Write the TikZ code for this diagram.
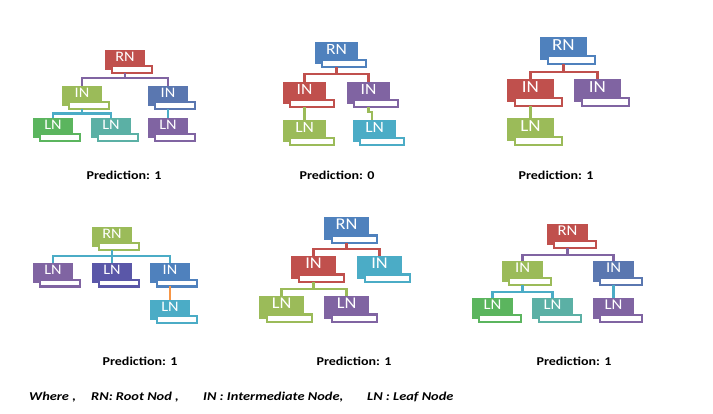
\documentclass[tikz,border=0pt]{standalone}
\usepackage{fontspec}
\setmainfont{Carlito}
\usepackage{graphicx}
\definecolor{cred}{HTML}{C0504D}
\definecolor{cblue}{HTML}{4F81BD}
\definecolor{colive}{HTML}{9BBB59}
\definecolor{cpurple}{HTML}{8064A2}
\definecolor{caqua}{HTML}{4BACC6}
\definecolor{corange}{HTML}{F79646}
\definecolor{cbluetwo}{HTML}{5A77B0}
\definecolor{cgreen}{HTML}{5BB55E}
\definecolor{cteal}{HTML}{5BB0A5}
\definecolor{cviolet}{HTML}{5A57A8}
\tikzset{
  fillbx/.style={rectangle, inner sep=0pt, outer sep=0pt, anchor=north west},
  outbx/.style={rectangle, inner sep=0pt, outer sep=0pt, fill=white, line width=2.1pt, anchor=north west},
  conn/.style={line width=2.4pt},
  lbl/.style={text=white, inner sep=0pt, anchor=base},
  pred/.style={font=\fontsize{12}{14}\selectfont\bfseries, anchor=base, inner sep=0pt},
  leg/.style={font=\fontsize{12}{14}\selectfont\bfseries\itshape, anchor=base west, inner sep=0pt},
}
% name, x, y (top-left, px, y down), scale, colour, text
\newcommand\treebox[6]{%
  \pgfmathsetmacro\tbW{40*#4}%
  \pgfmathsetmacro\tbH{20*#4}%
  \pgfmathsetmacro\tbOW{40.4*#4}%
  \pgfmathsetmacro\tbOH{6.6*#4}%
  \pgfmathsetmacro\tbF{14.5*#4}%
  \node[fillbx, fill=#5, minimum width=\tbW pt, minimum height=\tbH pt] (#1) at (#2,#3) {};
  \node[outbx, draw=#5, minimum width=\tbOW pt, minimum height=\tbOH pt] (#1o) at (#2+6.8*#4,#3+16.4*#4) {};
  \node[lbl, font=\fontsize{\tbF}{\tbF}\selectfont] (#1t) at (#2+20*#4,#3+11.3*#4) {\scalebox{1.12}[1]{#6}};
}
\begin{document}
\begin{tikzpicture}[x=1pt,y=-1pt]
\useasboundingbox[fill=white] (0,0) rectangle (713,414);

% ---------- Tree 1 ----------
\treebox{t1rn}{105}{50}{1}{cred}{RN}
\treebox{t1ia}{62}{86}{1}{colive}{IN}
\treebox{t1ib}{148}{86}{1}{cbluetwo}{IN}
\treebox{t1la}{33}{118}{1}{cgreen}{LN}
\treebox{t1lb}{91}{118}{1}{cteal}{LN}
\treebox{t1lc}{148}{118}{1}{cpurple}{LN}
\coordinate (t1b1) at (0,78);
\coordinate (t1b2) at (0,113.5);
\draw[conn,cpurple] (t1rn.north |- t1rno.south) -- (t1rn.north |- t1b1);
\draw[conn,cpurple] (t1ia.north) -- (t1ia.north |- t1b1) -- (t1ib.north |- t1b1) -- (t1ib.north);
\draw[conn,caqua] (t1ia.north |- t1iao.south) -- (t1ia.north |- t1b2);
\draw[conn,caqua] (t1la.north) -- (t1la.north |- t1b2) -- (t1lb.north |- t1b2) -- (t1lb.north);
\draw[conn,caqua] (t1ib.north |- t1ibo.south) -- (t1lc.north);
\node[pred] (p1) at (124,179.5) {\scalebox{1.17}[1]{Prediction: 1}};

% ---------- Tree 2 ----------
\treebox{t2rn}{315}{42}{1.08}{cblue}{RN}
\treebox{t2ia}{283}{82}{1.08}{cred}{IN}
\treebox{t2ib}{347}{82}{1.08}{cpurple}{IN}
\treebox{t2la}{283}{120}{1.08}{colive}{LN}
\treebox{t2lb}{353}{120}{1.08}{caqua}{LN}
\coordinate (t2b1) at (0,74);
\coordinate (t2j) at (372,112);
\draw[conn,cred] (t2rn.north |- t2rno.south) -- (t2rn.north |- t2b1);
\draw[conn,cred] (t2ia.north) -- (t2ia.north |- t2b1) -- (t2ib.north |- t2b1) -- (t2ib.north);
\draw[conn,colive] (t2ia.north |- t2iao.south) -- (t2la.north);
\draw[conn,colive] (t2ib.north |- t2ibo.south) -- (t2ib.north |- t2j) -- (t2j) -- (t2j |- t2lb.north);
\node[pred] (p2) at (337,179.5) {\scalebox{1.17}[1]{Prediction: 0}};

% ---------- Tree 3 ----------
\treebox{t3rn}{540}{37}{1.17}{cblue}{RN}
\treebox{t3ia}{507}{79}{1.17}{cred}{IN}
\treebox{t3ib}{574}{79}{1.17}{cpurple}{IN}
\treebox{t3la}{507}{118}{1.17}{colive}{LN}
\coordinate (t3b1) at (0,72);
\draw[conn,cred] (t3rn.north |- t3rno.south) -- (t3rn.north |- t3b1);
\draw[conn,cred] (t3ia.north) -- (t3ia.north |- t3b1) -- (t3ib.north |- t3b1) -- (t3ib.north);
\draw[conn,colive] (t3ia.north |- t3iao.south) -- (t3la.north);
\node[pred] (p3) at (556,179.5) {\scalebox{1.17}[1]{Prediction: 1}};

% ---------- Tree 4 ----------
\treebox{t4rn}{92}{227}{1}{colive}{RN}
\treebox{t4la}{33}{263.5}{1}{cpurple}{LN}
\treebox{t4lb}{92}{263.5}{1}{cviolet}{LN}
\treebox{t4ia}{150}{263.5}{1}{cblue}{IN}
\treebox{t4lc}{150}{300}{1}{caqua}{LN}
\coordinate (t4b1) at (0,256);
\draw[conn,caqua] (t4rn.north |- t4rno.south) -- (t4rn.north |- t4b1);
\draw[conn,caqua] (t4la.north) -- (t4la.north |- t4b1) -- (t4ia.north |- t4b1) -- (t4ia.north);
\draw[conn,caqua] (t4lb.north |- t4b1) -- (t4lb.north);
\draw[conn,corange] (t4ia.north |- t4iao.south) -- (t4lc.north);
\node[pred] (p4) at (140,365.5) {\scalebox{1.17}[1]{Prediction: 1}};

% ---------- Tree 5 ----------
\treebox{t5rn}{324}{217}{1.13}{cblue}{RN}
\treebox{t5ia}{291}{256}{1.13}{cred}{IN}
\treebox{t5ib}{357}{256}{1.13}{caqua}{IN}
\treebox{t5la}{259}{296}{1.13}{colive}{LN}
\treebox{t5lb}{324}{296}{1.13}{cpurple}{LN}
\coordinate (t5b1) at (0,249);
\coordinate (t5b2) at (0,289);
\draw[conn,cred] (t5rn.north |- t5rno.south) -- (t5rn.north |- t5b1);
\draw[conn,cred] (t5ia.north) -- (t5ia.north |- t5b1) -- (t5ib.north |- t5b1) -- (t5ib.north);
\draw[conn,colive] (t5ia.north |- t5iao.south) -- (t5ia.north |- t5b2);
\draw[conn,colive] (t5la.north) -- (t5la.north |- t5b2) -- (t5lb.north |- t5b2) -- (t5lb.north);
\node[pred] (p5) at (354,365.5) {\scalebox{1.17}[1]{Prediction: 1}};

% ---------- Tree 6 ----------
\treebox{t6rn}{547}{224}{1.03}{cred}{RN}
\treebox{t6ia}{502}{261}{1.03}{colive}{IN}
\treebox{t6ib}{593}{261}{1.03}{cbluetwo}{IN}
\treebox{t6la}{472}{298}{1.03}{cgreen}{LN}
\treebox{t6lb}{532}{298}{1.03}{cteal}{LN}
\treebox{t6lc}{593}{298}{1.03}{cpurple}{LN}
\coordinate (t6b1) at (0,255);
\coordinate (t6b2) at (0,292);
\draw[conn,cpurple] (t6rn.north |- t6rno.south) -- (t6rn.north |- t6b1);
\draw[conn,cpurple] (t6ia.north) -- (t6ia.north |- t6b1) -- (t6ib.north |- t6b1) -- (t6ib.north);
\draw[conn,caqua] (t6ia.north |- t6iao.south) -- (t6ia.north |- t6b2);
\draw[conn,caqua] (t6la.north) -- (t6la.north |- t6b2) -- (t6lb.north |- t6b2) -- (t6lb.north);
\draw[conn,caqua] (t6ib.north |- t6ibo.south) -- (t6lc.north);
\node[pred] (p6) at (574,365.5) {\scalebox{1.17}[1]{Prediction: 1}};

% ---------- Legend ----------
\node[leg] (lg1) at (29,400.5) {\scalebox{1.2}[1]{Where ,}};
\node[leg] (lg2) at (91,400.5) {\scalebox{1.2}[1]{RN: Root Nod ,}};
\node[leg] (lg3) at (203,400.5) {\scalebox{1.2}[1]{IN : Intermediate Node,}};
\node[leg] (lg4) at (367,400.5) {\scalebox{1.2}[1]{LN : Leaf Node}};
\end{tikzpicture}
\end{document}
